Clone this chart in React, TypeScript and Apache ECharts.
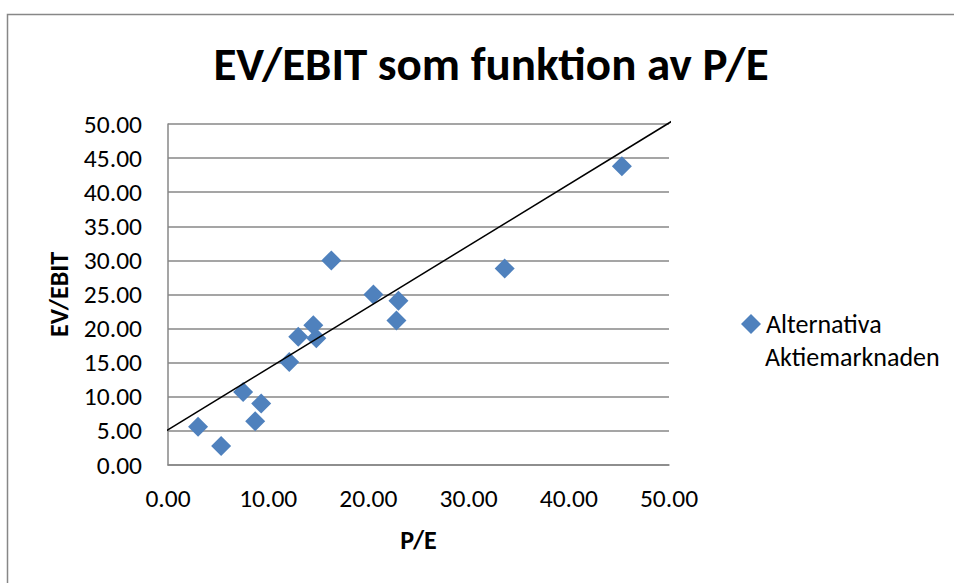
import React, { useEffect, useRef } from "react";
import * as echarts from "echarts";

// P/E (x) and EV/EBIT (y) for each company on Alternativa Aktiemarknaden
const peValues = [3.0, 5.3, 7.5, 8.7, 9.3, 12.1, 13.0, 14.5, 14.8, 16.3, 20.5, 22.8, 23.0, 33.6, 45.3];
const evEbitValues = [5.6, 2.8, 10.7, 6.4, 9.0, 15.1, 18.8, 20.5, 18.6, 30.0, 25.0, 21.2, 24.1, 28.8, 43.8];

// End points of the fitted line
const fitLine: [number, number][] = [
  [-0.3, 4.9],
  [50.5, 50.6],
];

const seriesName = "Alternativa Aktiemarknaden";
const legendLines = ["Alternativa", "Aktiemarknaden"];
const titleText = "EV/EBIT som funktion av P/E";
const xName = "P/E";
const yName = "EV/EBIT";

const FONT = 'Carlito, "Open Sans", "Noto Sans", sans-serif';

export default function App() {
  const ref = useRef<HTMLDivElement>(null);

  useEffect(() => {
    if (!ref.current) return;
    const chart = echarts.init(ref.current, undefined, { renderer: "svg" });
    const points = peValues.map((x, i) => [x, evEbitValues[i]]);

    chart.setOption({
      animation: false,
      backgroundColor: "#ffffff",
      textStyle: { fontFamily: FONT },
      graphic: [
        {
          type: "rect",
          left: 5,
          top: 12,
          shape: { x: 0, y: 0, width: 1000, height: 1000 },
          style: { fill: "none", stroke: "#878787", lineWidth: 1.5 },
          z: -1,
        },
        // second line of the legend entry, under the first
        {
          type: "text",
          x: 765,
          y: 357,
          style: {
            text: legendLines[1],
            fontFamily: FONT,
            fontSize: 26,
            fill: "#000",
            verticalAlign: "middle",
            align: "left",
          },
        },
      ],
      title: {
        text: titleText,
        left: 486,
        top: 35,
        textAlign: "center",
        textStyle: { fontFamily: FONT, fontWeight: "bold", fontSize: 47, color: "#000" },
      },
      legend: {
        left: 736,
        top: 306,
        icon: "diamond",
        itemWidth: 20,
        itemHeight: 20,
        data: [seriesName],
        formatter: () => legendLines[0],
        textStyle: { fontFamily: FONT, fontSize: 26, color: "#000" },
      },
      grid: { left: 168, right: 285, top: 124, bottom: 118, containLabel: false },
      xAxis: {
        type: "value",
        min: 0,
        max: 50,
        interval: 10,
        name: xName,
        nameLocation: "middle",
        nameGap: 62,
        nameTextStyle: { fontFamily: FONT, fontWeight: "bold", fontSize: 26, color: "#000" },
        axisLine: { show: true, onZero: false, lineStyle: { color: "#878787", width: 1.5 } },
        axisTick: { show: false },
        splitLine: { show: false },
        axisLabel: {
          margin: 20,
          fontFamily: FONT,
          fontSize: 25.5,
          color: "#000",
          formatter: (v: number) => v.toFixed(2),
        },
      },
      yAxis: {
        type: "value",
        min: 0,
        max: 50,
        interval: 5,
        name: yName,
        nameLocation: "middle",
        nameRotate: 90,
        nameGap: 96,
        nameTextStyle: { fontFamily: FONT, fontWeight: "bold", fontSize: 26, color: "#000" },
        axisLine: { show: true, onZero: false, lineStyle: { color: "#878787", width: 1.5 } },
        axisTick: { show: false },
        splitLine: { show: true, lineStyle: { color: "#878787", width: 1.5 } },
        axisLabel: {
          margin: 26,
          fontFamily: FONT,
          fontSize: 25.5,
          color: "#000",
          formatter: (v: number) => v.toFixed(2),
        },
      },
      series: [
        {
          name: seriesName,
          type: "scatter",
          data: points,
          symbol: "diamond",
          symbolSize: 20,
          itemStyle: { color: "#4F81BD", opacity: 1 },
          z: 3,
        },
        {
          name: "fit",
          type: "line",
          data: fitLine,
          clip: false,
          showSymbol: false,
          symbol: "none",
          lineStyle: { color: "#000", width: 1.5 },
          z: 4,
        },
      ],
    });

    return () => chart.dispose();
  }, []);

  return <div ref={ref} style={{ width: 954, height: 583, position: "absolute", left: 0, top: 0 }} />;
}
